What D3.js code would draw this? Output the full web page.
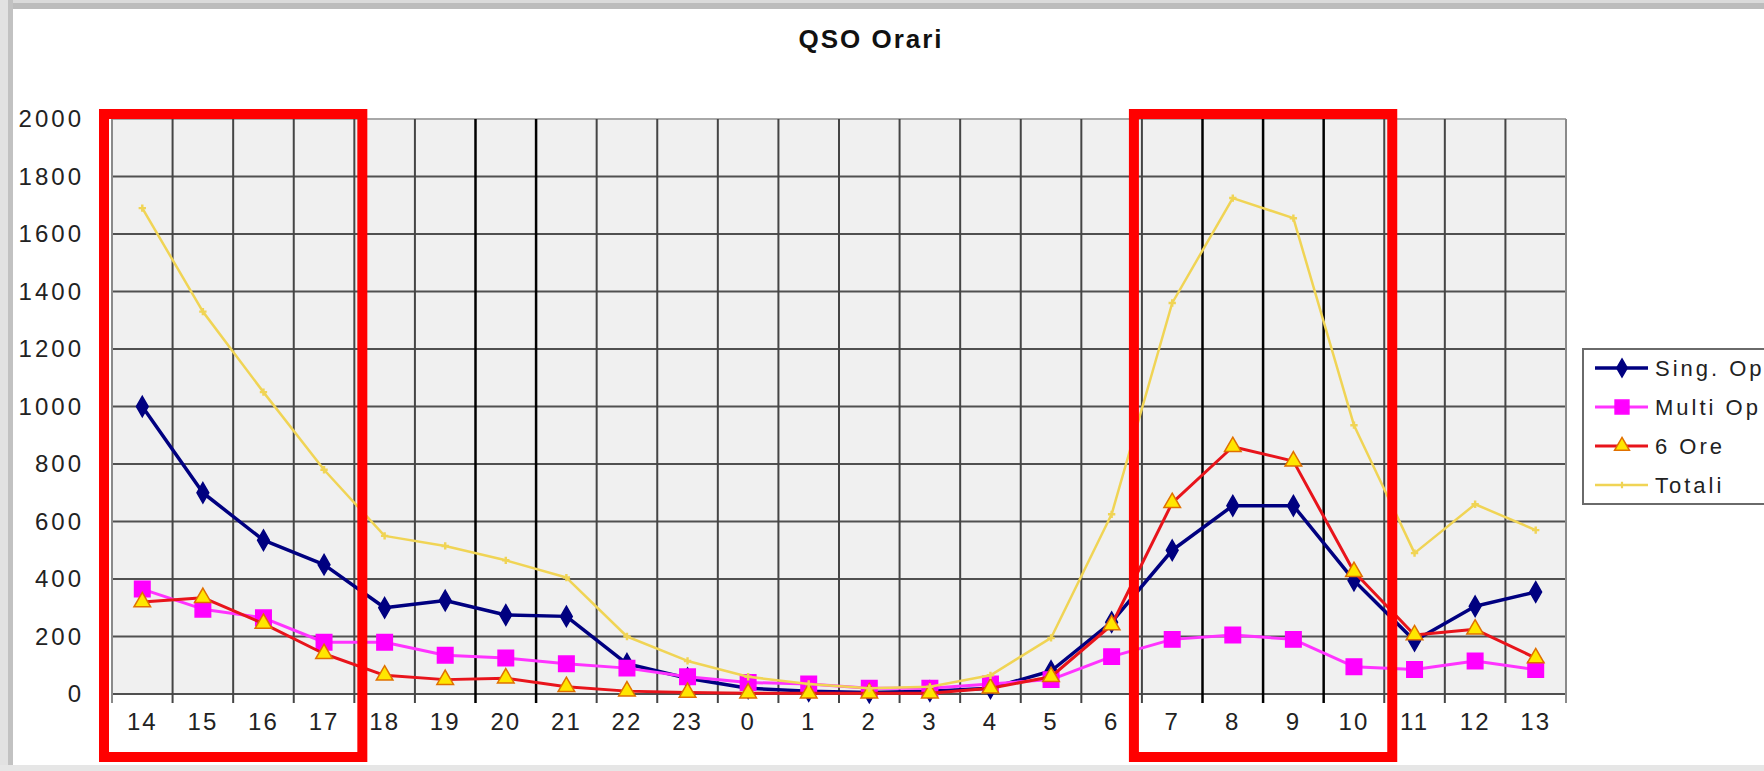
<!DOCTYPE html>
<html>
<head>
<meta charset="utf-8">
<script src="https://cdn.jsdelivr.net/npm/d3@7"></script>
<style>
  body { margin: 0; background: #fff; }
  svg { display: block; font-family: "Liberation Sans", Arial, sans-serif; }
</style>
</head>
<body>
<svg id="chart" width="1764" height="771"></svg>
<script>
// hours of the contest, starting at 14
const hours = ["14", "15", "16", "17", "18", "19", "20", "21", "22", "23",
    "0", "1", "2", "3", "4", "5", "6", "7", "8", "9", "10", "11", "12", "13"];

const singOp = [1000, 700, 535, 450, 300, 325, 275, 270, 105, 55,
    20, 10, 5, 10, 20, 80, 250, 500, 655, 655, 395, 185, 305, 355];
const multiOp = [365, 295, 265, 180, 180, 135, 125, 105, 90, 60,
    40, 35, 20, 20, 35, 50, 130, 190, 205, 190, 95, 85, 115, 85];
const seiOre = [320, 335, 245, 140, 65, 50, 55, 25, 10, 5,
    3, 3, 3, 3, 20, 60, 240, 665, 860, 810, 425, 205, 225, 125];
const totali = [1690, 1330, 1050, 780, 550, 515, 465, 405, 200, 115,
    60, 35, 20, 25, 65, 195, 625, 1360, 1725, 1655, 935, 490, 660, 570];

const yTicks = [0, 200, 400, 600, 800, 1000, 1200, 1400, 1600, 1800, 2000];

// boundaries (left edge of these hours) drawn darker in the original
const darkBounds = ["20", "21", "8", "9", "10"];
// hour ranges circled in red
const highlights = [["14", "17"], ["7", "10"]];

const seriesNames = ["Sing. Op", "Multi Op", "6 Ore", "Totali"];

const width = 1764, height = 771,
    margin = { top: 119, right: 198, bottom: 77, left: 112 };

const svg = d3.select("#chart");

// window frame
svg.append("rect").attr("width", width).attr("height", height).attr("fill", "#fff");
svg.append("rect").attr("x", 0).attr("y", 0).attr("width", width).attr("height", 3).attr("fill", "#dadada");
svg.append("rect").attr("x", 0).attr("y", 3).attr("width", width).attr("height", 6).attr("fill", "#bcbcbc");
svg.append("rect").attr("x", 0).attr("y", 0).attr("width", 8).attr("height", height).attr("fill", "#e2e2e2");
svg.append("rect").attr("x", 8).attr("y", 0).attr("width", 5).attr("height", height).attr("fill", "#c2c2c2");
svg.append("rect").attr("x", 0).attr("y", height - 6).attr("width", width).attr("height", 6).attr("fill", "#e6e6e6");

const x = d3.scaleBand()
    .domain(hours)
    .range([margin.left, width - margin.right])
    .padding(0);
const y = d3.scaleLinear()
    .domain([0, 2000])
    .range([height - margin.bottom, margin.top]);

const x0 = x.range()[0], x1 = x.range()[1];
const yBottom = y(0), yTop = y(2000);

// plot area
svg.append("rect")
    .attr("x", x0).attr("y", yTop)
    .attr("width", x1 - x0).attr("height", yBottom - yTop)
    .attr("fill", "#f0f0f0");

// horizontal grid
svg.append("g").selectAll("line")
    .data(yTicks)
    .enter().append("line")
    .attr("x1", x0).attr("x2", x1)
    .attr("y1", d => y(d)).attr("y2", d => y(d))
    .attr("stroke", d => d === 2000 ? "#a8a8a8" : "#505050")
    .attr("stroke-width", 2);

// vertical grid at band edges, extending below the axis as ticks
const bounds = hours.map(h => x(h)).concat([x1]);
svg.append("g").selectAll("line")
    .data(bounds)
    .enter().append("line")
    .attr("x1", d => d).attr("x2", d => d)
    .attr("y1", yTop).attr("y2", yBottom + 9)
    .attr("stroke", (d, i) => (i > 0 && darkBounds.indexOf(hours[i]) >= 0) ? "#000" : (i === 0 || i === hours.length ? "#8a8a8a" : "#454545"))
    .attr("stroke-width", (d, i) => (i > 0 && darkBounds.indexOf(hours[i]) >= 0) ? 2.5 : 2);

// y axis labels
const yAxis = svg.append("g")
    .attr("transform", "translate(" + x0 + ",0)")
    .call(d3.axisLeft(y).tickValues(yTicks).tickFormat(d3.format("d")).tickSize(0).tickPadding(28));
yAxis.select(".domain").remove();
yAxis.selectAll("text")
    .attr("font-size", 24)
    .attr("letter-spacing", 3)
    .attr("fill", "#222")
    .attr("font-family", "Liberation Sans, Arial, sans-serif");

// x axis labels
const xAxis = svg.append("g")
    .attr("transform", "translate(0," + yBottom + ")")
    .call(d3.axisBottom(x).tickSize(0).tickPadding(19));
xAxis.select(".domain").remove();
xAxis.selectAll("text")
    .attr("font-size", 24)
    .attr("letter-spacing", 2)
    .attr("fill", "#222")
    .attr("font-family", "Liberation Sans, Arial, sans-serif");

// title
svg.append("text")
    .attr("x", 871).attr("y", 48)
    .attr("text-anchor", "middle")
    .attr("font-size", 26)
    .attr("font-weight", "bold")
    .attr("letter-spacing", 2)
    .attr("fill", "#111")
    .text("QSO Orari");

const cx = h => x(h) + x.bandwidth() / 2;

const series = [
    { name: seriesNames[0], values: singOp, color: "#000080", width: 3.5,
      symbol: d3.symbolDiamond, size: 120, fill: "#000080", stroke: "#000080" },
    { name: seriesNames[1], values: multiOp, color: "#ff33ff", width: 3,
      symbol: d3.symbolSquare, size: 240, fill: "#ff00ff", stroke: "#ff00ff" },
    { name: seriesNames[2], values: seiOre, color: "#e8141b", width: 3,
      symbol: d3.symbolTriangle, size: 120, fill: "#ffe600", stroke: "#e07000" },
    { name: seriesNames[3], values: totali, color: "#f0d455", width: 2.5,
      symbol: d3.symbolCross, size: 30, fill: "#f0d455", stroke: "none" }
];

const line = d3.line()
    .x((d, i) => cx(hours[i]))
    .y(d => y(d));

series.forEach(function (s) {
    svg.append("path")
        .datum(s.values)
        .attr("d", line)
        .attr("fill", "none")
        .attr("stroke", s.color)
        .attr("stroke-width", s.width)
        .attr("stroke-linejoin", "round");

    svg.append("g").selectAll("path")
        .data(s.values)
        .enter().append("path")
        .attr("d", d3.symbol().type(s.symbol).size(s.size))
        .attr("transform", (d, i) => "translate(" + cx(hours[i]) + "," + y(d) + ")")
        .attr("fill", s.fill)
        .attr("stroke", s.stroke)
        .attr("stroke-width", 1.5);
});

// legend (runs off the right edge, as in the original)
const lg = svg.append("g");
lg.append("rect")
    .attr("x", 1583).attr("y", 349)
    .attr("width", 260).attr("height", 155)
    .attr("fill", "#fff")
    .attr("stroke", "#6a6a6a")
    .attr("stroke-width", 2);

series.forEach(function (s, i) {
    const ly = 368 + i * 39;
    lg.append("line")
        .attr("x1", 1595).attr("x2", 1648)
        .attr("y1", ly).attr("y2", ly)
        .attr("stroke", s.color)
        .attr("stroke-width", s.width);
    lg.append("path")
        .attr("d", d3.symbol().type(s.symbol).size(s.size * 0.8))
        .attr("transform", "translate(1622," + ly + ")")
        .attr("fill", s.fill)
        .attr("stroke", s.stroke)
        .attr("stroke-width", 1.5);
    lg.append("text")
        .attr("x", 1655).attr("y", ly)
        .attr("dy", "0.36em")
        .attr("font-size", 22)
        .attr("letter-spacing", 3)
        .attr("fill", "#222")
        .text(s.name);
});

// red highlight boxes
svg.append("g").selectAll("rect")
    .data(highlights)
    .enter().append("rect")
    .attr("x", d => x(d[0]) - 8)
    .attr("y", yTop - 5)
    .attr("width", d => x(d[1]) + x.bandwidth() - x(d[0]) + 16)
    .attr("height", 757 - (yTop - 5))
    .attr("fill", "none")
    .attr("stroke", "#ff0000")
    .attr("stroke-width", 10);
</script>
</body>
</html>
